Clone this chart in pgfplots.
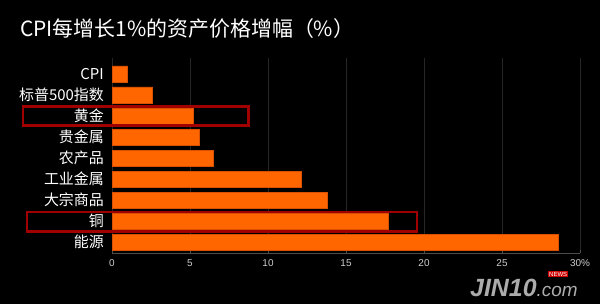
\documentclass[border=0pt]{standalone}
\usepackage{pgfplots}
\pgfplotsset{compat=1.18}
\usepackage{fontspec}
\setmainfont{Noto Sans CJK SC}
\newfontfamily\latinfont{Liberation Sans}
\definecolor{barfill}{HTML}{FF6600}
\definecolor{baredge}{HTML}{D85000}
\definecolor{boxred}{HTML}{A00000}
\definecolor{gridc}{HTML}{262626}
\begin{document}
\begin{tikzpicture}[x=1bp,y=1bp]
\fill[black] (0,0) rectangle (600,304);
\useasboundingbox (0,0) rectangle (600,304);
\node[anchor=base west, text=white, inner sep=0pt, font=\fontsize{21}{24}\selectfont] at (20,268) {CPI每增长1\%的资产价格增幅（\%）};
\begin{axis}[
  at={(112bp,51bp)}, anchor=south west,
  scale only axis, width=468bp, height=195bp,
  xbar, bar width=16bp,
  xmin=0, xmax=30, ymin=-0.52, ymax=8.76,
  clip=false,
  axis line style={draw=none},
  axis x line*=bottom,
  x axis line style={draw=gray!60!black, line width=0.8pt},
  xtick={0,5,10,15,20,25,30},
  xticklabels={0,5,10,15,20,25,30\%},
  xtick style={draw=gray!60!black, line width=0.6pt},
  major tick length=3bp,
  xmajorgrids, major grid style={draw=gridc, line width=0.6pt},
  xticklabel style={text=gray!40!white, font=\latinfont\fontsize{10}{11}\selectfont, yshift=-3bp},
  ytick={0,1,2,3,4,5,6,7,8},
  yticklabels={能源,铜,大宗商品,工业金属,农产品,贵金属,黄金,标普500指数,CPI},
  ytick style={draw=none},
  y axis line style={draw=none},
  yticklabel style={text=white, font=\fontsize{15}{16}\selectfont, inner sep=0pt, xshift=-5bp},
]
\addplot[fill=barfill, draw=baredge, line width=0.4pt] coordinates {
  (28.6,0) (17.7,1) (13.8,2) (12.1,3) (6.5,4) (5.6,5) (5.2,6) (2.6,7) (1.0,8)
};
\draw[boxred, line width=2.2pt] (axis cs:-5.72,5.55) rectangle (axis cs:8.75,6.45);
\draw[boxred, line width=2.2pt] (axis cs:-5.47,0.5) rectangle (axis cs:19.55,1.45);
\end{axis}
\node[anchor=base west, inner sep=0pt, text=gray!65!white, font=\latinfont\bfseries\itshape\fontsize{25}{28}\selectfont] at (470,8) {JIN10\fontsize{19}{22}\selectfont\mdseries.com};
\node[anchor=base west, inner sep=1pt, fill=red!80!black, text=white, font=\latinfont\fontsize{6}{7}\selectfont] at (548,28) {NEWS};
\end{tikzpicture}
\end{document}
